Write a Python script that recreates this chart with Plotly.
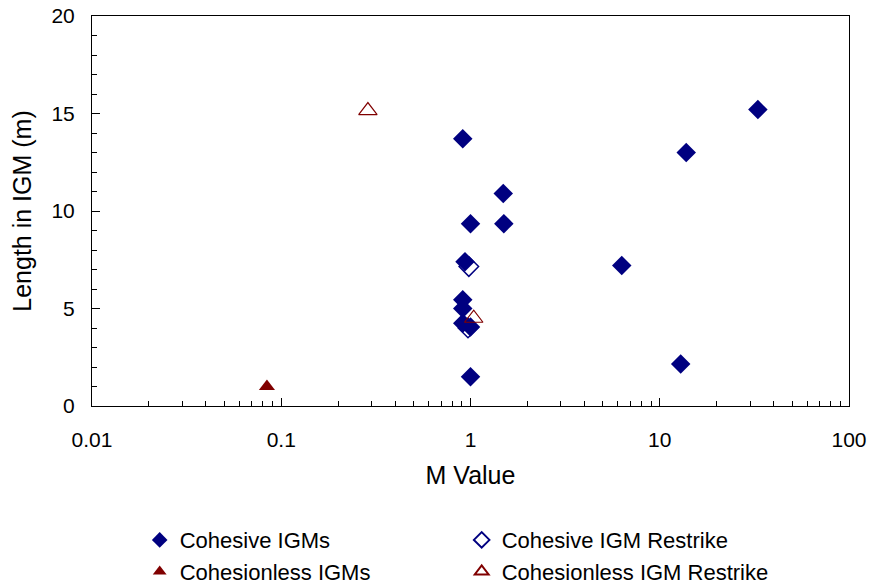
import plotly.graph_objects as go

# Cohesive IGMs (filled navy diamonds)
coh_m = [0.91, 13.8, 33.0, 1.49, 1.0, 1.5, 0.935, 6.3, 0.91, 0.91, 0.91, 1.0, 1.0, 12.9]
coh_len = [13.7, 13.0, 15.2, 10.9, 9.35, 9.35, 7.4, 7.2, 5.45, 5.0, 4.25, 4.05, 1.5, 2.15]

# Cohesive IGM Restrike (open navy diamonds)
cohr_m = [0.98, 0.97]
cohr_len = [7.15, 4.0]

# Cohesionless IGMs (filled dark-red triangles)
cnl_m = [0.084]
cnl_len = [1.0]

# Cohesionless IGM Restrike (open dark-red triangles)
cnlr_m = [0.287, 1.04]
cnlr_len = [15.15, 4.5]

x_tickvals = [0.01, 0.1, 1, 10, 100]
x_ticktext = ["0.01", "0.1", "1", "10", "100"]
x_minor = [d * k for d in (0.01, 0.1, 1, 10) for k in range(2, 10)]
y_tickvals = [0, 5, 10, 15, 20]

NAVY = "#000080"
DRED = "#800000"
FONT = "Liberation Sans, Arial, sans-serif"

fig = go.Figure()
fig.add_trace(go.Scatter(x=coh_m, y=coh_len, mode="markers", name="Cohesive IGMs",
                         marker=dict(symbol="diamond", size=15, color=NAVY, line=dict(width=0))))
fig.add_trace(go.Scatter(x=cohr_m, y=cohr_len, mode="markers", name="Cohesive IGM Restrike",
                         marker=dict(symbol="diamond-open", size=15, color=NAVY, line=dict(width=1.5, color=NAVY))))
fig.add_trace(go.Scatter(x=cnl_m, y=cnl_len, mode="markers", name="Cohesionless IGMs",
                         marker=dict(symbol="triangle-up", size=14, color=DRED, line=dict(width=0))))
fig.add_trace(go.Scatter(x=cnlr_m, y=cnlr_len, mode="markers", name="Cohesionless IGM Restrike",
                         marker=dict(symbol="triangle-up-open", size=16, color=DRED, line=dict(width=1.2, color=DRED))))

fig.update_layout(
    width=871, height=588,
    margin=dict(l=92, r=22, t=16, b=182, autoexpand=False),
    paper_bgcolor="white", plot_bgcolor="white",
    font=dict(family=FONT, size=21, color="black"),
    showlegend=True,
    legend=dict(orientation="h", x=0.063, y=-0.29, xanchor="left", yanchor="top",
                entrywidth=277, entrywidthmode="pixels",
                font=dict(family=FONT, size=22, color="black"),
                itemsizing="constant", traceorder="normal",
                bgcolor="rgba(0,0,0,0)"),
    xaxis=dict(type="log", range=[-2, 2], tickvals=x_tickvals, ticktext=x_ticktext,
               ticks="inside", ticklen=8, tickcolor="black", tickwidth=1,
               ticklabelstandoff=15,
               showline=True, linecolor="black", linewidth=1, mirror=True,
               showgrid=False, zeroline=False,
               minor=dict(tickvals=x_minor, ticks="inside", ticklen=5, tickcolor="black", showgrid=False),
               title=dict(text="M Value", font=dict(size=25), standoff=16),
               tickfont=dict(size=21)),
    yaxis=dict(range=[0, 20], tickvals=y_tickvals,
               ticks="inside", ticklen=8, tickcolor="black", tickwidth=1,
               ticklabelstandoff=12,
               showline=True, linecolor="black", linewidth=1, mirror=True,
               showgrid=False, zeroline=False,
               minor=dict(ticks="inside", ticklen=5, dtick=1, tickcolor="black", showgrid=False),
               title=dict(text="Length in IGM (m)", font=dict(size=25), standoff=12),
               tickfont=dict(size=21)),
)

fig.write_html("out.html")
